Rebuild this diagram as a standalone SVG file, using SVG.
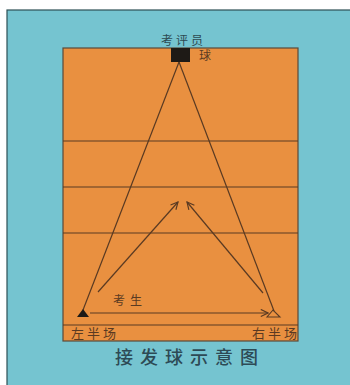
<svg xmlns="http://www.w3.org/2000/svg" width="350" height="385" viewBox="0 0 350 385">
<defs>
<style>
.ln{stroke:#5a3a22;stroke-width:1.2;fill:none}
.lbl{font-family:"Noto Sans CJK SC","Noto Sans",sans-serif;fill:#5a3a22;font-size:12px}
</style>
<marker id="chev" viewBox="0 0 10 10" refX="9" refY="5" markerWidth="9" markerHeight="9" markerUnits="userSpaceOnUse" orient="auto">
<polyline points="1,1 9,5 1,9" fill="none" stroke="#5a3a22" stroke-width="1.3"/>
</marker>
</defs>
<rect x="0" y="0" width="350" height="385" fill="#ffffff"/>
<rect x="7" y="10" width="345" height="377" fill="#75c4d0" stroke="#2d5055" stroke-width="1.2"/>
<g id="court">
<rect x="63" y="48" width="235" height="293" fill="#e99040" stroke="#5a4a3a" stroke-width="1.2"/>
<line class="ln" x1="63" y1="141" x2="298" y2="141"/>
<line class="ln" x1="63" y1="187" x2="298" y2="187"/>
<line class="ln" x1="63" y1="233" x2="298" y2="233"/>
<line class="ln" x1="63" y1="325" x2="298" y2="325"/>
</g>
<g id="connectors">
<line class="ln" x1="179" y1="62" x2="83" y2="310"/>
<line class="ln" x1="179" y1="62" x2="274" y2="311"/>
<line class="ln" x1="90" y1="313" x2="268" y2="313" marker-end="url(#chev)"/>
<line class="ln" x1="98" y1="292" x2="178" y2="202" marker-end="url(#chev)"/>
<line class="ln" x1="263" y1="293" x2="187" y2="202" marker-end="url(#chev)"/>
</g>
<g id="examiner">
<rect x="171" y="48" width="19" height="14" fill="#1e1a16"/>
<text x="161" y="45" letter-spacing="3" style="font-family:'Noto Sans CJK SC',sans-serif;font-size:12px;fill:#2d4a52">考评员</text>
<text x="199" y="60" class="lbl">球</text>
</g>
<g id="left-player">
<polygon points="83,309 77,317 89,317" fill="#1e1a16"/>
<text x="71" y="338" class="lbl" style="font-size:13px" letter-spacing="3">左半场</text>
</g>
<g id="right-player">
<polygon points="273,310 267,317 280,317" fill="none" stroke="#5a3a22" stroke-width="1.1"/>
<text x="252" y="338" class="lbl" style="font-size:13px" letter-spacing="3">右半场</text>
</g>
<g id="candidate">
<text x="113" y="305" class="lbl" letter-spacing="5">考生</text>
</g>
<text x="115" y="364" style="font-family:'Noto Sans CJK SC',sans-serif;font-size:18px;font-weight:500;fill:#2d4a55" letter-spacing="7">接发球示意图</text>
</svg>
